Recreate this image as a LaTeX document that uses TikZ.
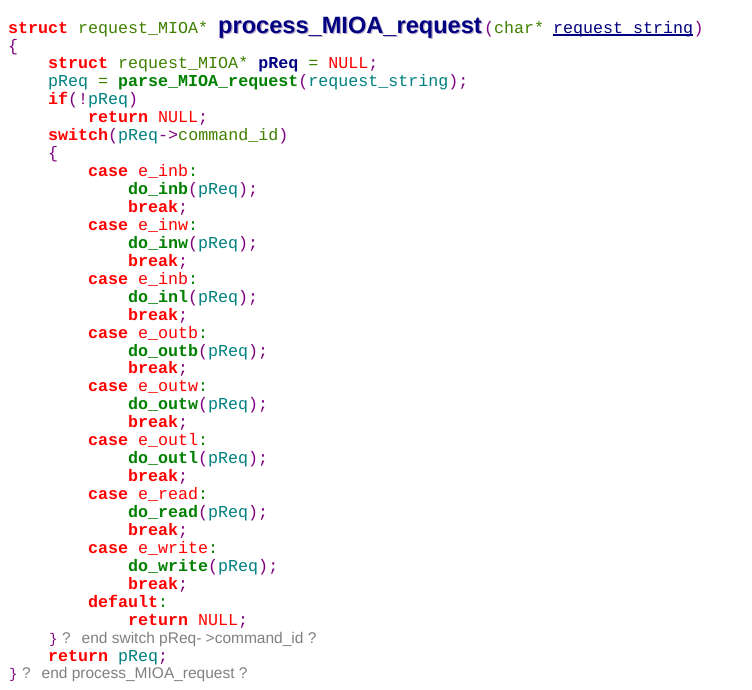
\documentclass[tikz,border=0pt]{standalone}
\usepackage{fontspec}
\newfontfamily\codefamily{Liberation Mono}
\newfontfamily\titlefamily{Liberation Sans}
\definecolor{kw}{RGB}{255,0,0}
\definecolor{ty}{RGB}{64,128,0}
\definecolor{fn}{RGB}{0,128,0}
\definecolor{vr}{RGB}{0,128,128}
\definecolor{pun}{RGB}{128,0,128}
\definecolor{nv}{RGB}{0,0,128}
\definecolor{cmt}{RGB}{128,128,128}
\definecolor{shad}{RGB}{185,170,200}
\newcommand\ckw[1]{\textcolor{kw}{\bfseries #1}}
\newcommand\cnl[1]{\textcolor{kw}{#1}}
\newcommand\cty[1]{\textcolor{ty}{#1}}
\newcommand\cfn[1]{\textcolor{fn}{\bfseries #1}}
\newcommand\cvr[1]{\textcolor{vr}{#1}}
\newcommand\cpn[1]{\textcolor{pun}{#1}}
\newcommand\cnv[1]{\textcolor{nv}{\bfseries #1}}
\newcommand\rowy[1]{{33.1+17.94*(#1-1)}}
\begin{document}
\begin{tikzpicture}[x=1pt,y=-1pt,
  code/.style={anchor=base west,inner sep=0pt,font=\codefamily\fontsize{16.67}{18}\selectfont},
  brace/.style={anchor=base west,inner sep=0pt,font=\codefamily\fontsize{14}{16}\selectfont,text=pun},
  cmtq/.style={anchor=base west,inner sep=0pt,font=\titlefamily\fontsize{15.5}{17}\selectfont,text=cmt},
  titletext/.style={anchor=base west,inner sep=0pt,font=\titlefamily\bfseries\fontsize{23.6}{26}\selectfont}]
\useasboundingbox[fill=white] (0,0) rectangle (752,689);
% line 1
\node[code] (l1a) at (8,\rowy{1}) {\ckw{struct} \cty{request\_MIOA*}};
\node[titletext,text=shad] (tsh) at (219.2,34.2) {process\_MIOA\_request};
\node[titletext,text=nv] (title) at (218,\rowy{1}) {process\_MIOA\_request};
\node[code] (tp1) at (484,\rowy{1}) {\cpn{(}\cty{char*}};
\node[code] (tstr) at (553,\rowy{1}) {\textcolor{nv}{request\_string}};
\node[code] (tp2) at (tstr.base east) {\cpn{)}};
\draw[nv,line width=1.1pt] ([yshift=-1.9pt]tstr.base west) -- ([yshift=-1.9pt]tstr.base east);
% body
\node[code] (l2) at (8,\rowy{2}) {\cpn{\{}};
\node[code] (l3) at (48,\rowy{3}) {\ckw{struct} \cty{request\_MIOA*} \cnv{pReq} \cty{=} \cnl{NULL}\cpn{;}};
\node[code] (l4) at (48,\rowy{4}) {\cvr{pReq} \cty{=} \cfn{parse\_MIOA\_request}\cpn{(}\cvr{request\_string}\cpn{);}};
\node[code] (l5) at (48,\rowy{5}) {\ckw{if}\cpn{(!}\cvr{pReq}\cpn{)}};
\node[code] (l6) at (88,\rowy{6}) {\ckw{return} \cnl{NULL}\cpn{;}};
\node[code] (l7) at (48,\rowy{7}) {\ckw{switch}\cpn{(}\cvr{pReq}\cpn{->}\cty{command\_id}\cpn{)}};
\node[code] (l8) at (48,\rowy{8}) {\cpn{\{}};
\foreach \cn/\fnn [count=\i from 0] in {inb/inb,inw/inw,inb/inl,outb/outb,outw/outw,outl/outl,read/read,write/write}{
  \pgfmathtruncatemacro\ra{9+3*\i}
  \pgfmathtruncatemacro\rb{10+3*\i}
  \pgfmathtruncatemacro\rc{11+3*\i}
  \node[code] (case\i) at (88,\rowy{\ra}) {\ckw{case} \cnl{e\_\cn}\textcolor{fn}{:}};
  \node[code] (call\i) at (128,\rowy{\rb}) {\cfn{do\_\fnn}\cpn{(}\cvr{pReq}\cpn{);}};
  \node[code] (brk\i) at (128,\rowy{\rc}) {\ckw{break}\cpn{;}};
}
\node[code] (l33) at (88,\rowy{33}) {\ckw{default}\textcolor{fn}{:}};
\node[code] (l34) at (128,\rowy{34}) {\ckw{return} \cnl{NULL}\cpn{;}};
\node[brace] (l35a) at (49,\rowy{35}) {\}};
\node[cmtq] (l35b) at (62,\rowy{35}) {?};
\node[cmtq] (l35c) at (81.5,\rowy{35}) {end switch pReq- >command\_id ?};
\node[code] (l36) at (48,\rowy{36}) {\ckw{return} \cvr{pReq}\cpn{;}};
\node[brace] (l37a) at (9,\rowy{37}) {\}};
\node[cmtq] (l37b) at (22,\rowy{37}) {?};
\node[cmtq] (l37c) at (41.5,\rowy{37}) {end process\_MIOA\_request ?};
\end{tikzpicture}
\end{document}
